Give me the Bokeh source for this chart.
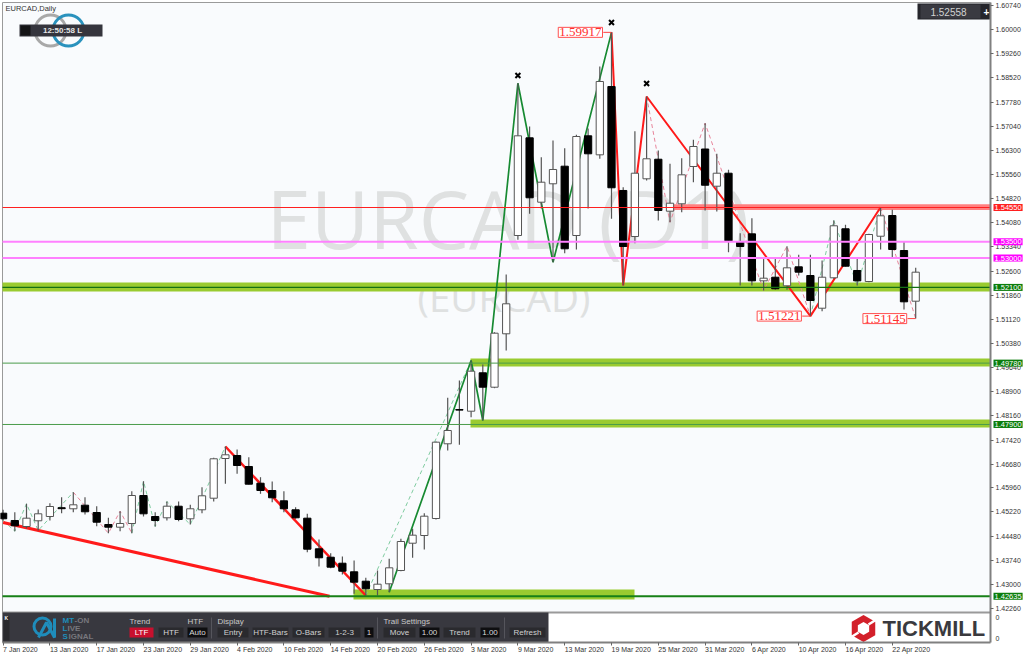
from bokeh.plotting import figure
from bokeh.models import Range1d, FixedTicker, Label
from bokeh.core.properties import value
from bokeh.embed import file_html
from bokeh.resources import INLINE

# ---------------- chart values ----------------
opens = [1.45181,1.44957,1.44773,1.44948,1.45080,1.45349,1.45316,1.45426,1.45202,1.44834,1.44752,1.44865,1.45723,1.45080,1.45040,1.45395,1.45009,1.45285,1.45640,1.46857,
         1.46949,1.46612,1.46100,1.45876,1.45561,1.45285,1.45028,1.44090,1.43832,1.43648,1.43385,1.43097,1.42842,1.43017,1.43425,1.44261,1.44497,1.45018,1.47308,1.48359,
         1.48307,1.49484,1.49042,1.50679,1.53691,1.56685,1.54712,1.55276,1.55815,1.53691,1.56746,1.56164,1.58257,1.55071,1.53660,1.55429,1.56029,1.54436,1.54663,1.55806,
         1.56342,1.55202,1.55600,1.53498,1.53742,1.52302,1.52413,1.52149,1.52732,1.52465,1.51463,1.52395,1.53897,1.52619,1.52281,1.53669,1.54304,1.53231,1.51678]
highs = [1.45285,1.45211,1.45469,1.45294,1.45487,1.45671,1.45824,1.45671,1.45395,1.45040,1.45242,1.45855,1.46161,1.45211,1.45539,1.45539,1.45438,1.45978,1.46879,1.47225,
         1.47133,1.46897,1.46284,1.46152,1.45855,1.45365,1.45162,1.44375,1.43955,1.43854,1.43731,1.43201,1.43425,1.43783,1.44396,1.44703,1.45181,1.47378,1.48717,1.49248,
         1.49861,1.49738,1.50728,1.52496,1.58358,1.57031,1.56088,1.56603,1.56367,1.56777,1.56971,1.58870,1.59917,1.55172,1.56887,1.57951,1.56296,1.55888,1.56060,1.56624,
         1.57132,1.56195,1.55704,1.53762,1.54222,1.52977,1.52977,1.53364,1.53098,1.53098,1.52925,1.54151,1.54019,1.53007,1.53742,1.54559,1.54479,1.53507,1.52701]
lows = [1.44957,1.44629,1.44712,1.44651,1.44957,1.45181,1.45211,1.45141,1.44782,1.44568,1.44629,1.44568,1.45080,1.44773,1.44957,1.44936,1.44834,1.45181,1.45539,1.46082,
        1.46388,1.46060,1.45775,1.45518,1.45211,1.45009,1.43986,1.43547,1.43495,1.43302,1.42711,1.42659,1.42659,1.42760,1.43403,1.43814,1.44068,1.44988,1.47102,1.47277,
        1.48123,1.48022,1.49012,1.50167,1.53560,1.54356,1.54519,1.52873,1.53149,1.53262,1.54519,1.56042,1.54203,1.52160,1.53455,1.55377,1.54151,1.54099,1.54406,1.55325,
        1.54458,1.54427,1.53175,1.52160,1.52160,1.52006,1.52027,1.52027,1.52465,1.51221,1.51371,1.52364,1.52741,1.52160,1.52260,1.53262,1.53007,1.51423,1.51145]
closes = [1.45009,1.44795,1.45028,1.45162,1.45386,1.45319,1.45438,1.45224,1.44905,1.44752,1.44865,1.45723,1.45162,1.44957,1.45395,1.44988,1.45316,1.45714,1.46848,1.46971,
          1.46643,1.46070,1.45876,1.45653,1.45316,1.45040,1.44077,1.43814,1.43526,1.43403,1.43066,1.42864,1.43005,1.43507,1.44313,1.44507,1.45089,1.47357,1.47715,1.48340,
          1.49533,1.49042,1.50697,1.51598,1.56746,1.54847,1.55325,1.55714,1.53284,1.56725,1.56195,1.58411,1.55154,1.53354,1.55600,1.56042,1.54458,1.54681,1.55551,1.56419,
          1.55232,1.55600,1.53529,1.53354,1.52302,1.52383,1.52058,1.52701,1.52567,1.51699,1.52413,1.53989,1.52750,1.52302,1.53721,1.54295,1.53262,1.51659,1.52567]

date_labels = ["7 Jan 2020","13 Jan 2020","17 Jan 2020","23 Jan 2020","29 Jan 2020","4 Feb 2020","10 Feb 2020",
               "14 Feb 2020","20 Feb 2020","26 Feb 2020","3 Mar 2020","9 Mar 2020","13 Mar 2020","19 Mar 2020",
               "25 Mar 2020","31 Mar 2020","6 Apr 2020","10 Apr 2020","16 Apr 2020","22 Apr 2020"]
price_ticks = [1.60740,1.60000,1.59260,1.58520,1.57780,1.57040,1.56300,1.55560,1.54820,1.54080,1.53340,1.52600,1.51860,
               1.51120,1.50380,1.49640,1.48900,1.48160,1.47420,1.46680,1.45960,1.45220,1.44480,1.43740,1.43000,1.42260]

level_prices = [1.54550,1.53500,1.53000,1.52100,1.49780,1.47900,1.42635]
level_tags = ["1.54550","1.53500","1.53000","1.52100","1.49780","1.47900","1.42635"]

band_tops = [1.54650,1.52251,1.49921,1.48052,1.42842]
band_bottoms = [1.54470,1.51975,1.49676,1.47807,1.42535]

fall_i = [0,27.9];                 fall_p = [1.44896,1.42635]
drop_i = [19,31];                  drop_p = [1.47225,1.42659]
up_i = [33,40,41,44,47,52];        up_p = [1.42760,1.49861,1.48022,1.58358,1.52873,1.59917]
down_i = [52,53,55,69,75];         down_p = [1.59917,1.52160,1.57951,1.51221,1.54559]
thin_up_i = [[0,1,2,3,6],[11,12,13,14,16,19],[31,40],[69,71,73,75]]
thin_up_p = [[1.4496,1.44629,1.45469,1.44651,1.45824],[1.44568,1.46161,1.44773,1.45539,1.44834,1.47225],
             [1.42659,1.49861],[1.51221,1.54151,1.52160,1.54559]]
thin_dn_i = [[6,9,10,11],[55,57,60,65,67,69],[75,78]]
thin_dn_p = [[1.45824,1.44568,1.45242,1.44568],[1.57951,1.54099,1.57132,1.52006,1.53364,1.51221],[1.54559,1.51145]]

cross_i = [44,52,55];              cross_p = [1.58594,1.60219,1.58349]
box_i = [52,69,78];                box_p = [1.59917,1.51221,1.51145]
box_text = ["1.59917","1.51221","1.51145"]
live_price = "1.52558"

# ---------------- reference pixel <-> data helpers ----------------
def idx(x):
    return (x - 2.6) / 11.7
def val(y):
    return 1.6074 - (y - 5) / 3263.0

W, H = 1024, 658

p = figure(width=W, height=H, output_backend="svg", toolbar_location=None,
           x_range=Range1d(idx(0), idx(W)), y_range=Range1d(val(H), val(0)),
           y_axis_location="right", min_border=0,
           background_fill_color="white", border_fill_color="white",
           outline_line_color=None)
p.grid.visible = False

ax = p.yaxis[0]
ax.fixed_location = idx(990)
ax.bounds = (val(642), val(2))
ax.ticker = FixedTicker(ticks=price_ticks)
ax.major_label_overrides = {t: f"{t:.5f}" for t in price_ticks}
ax.major_label_text_font = "Liberation Sans"
ax.major_label_text_font_size = "7px"
ax.major_label_text_color = "#333333"
ax.major_tick_out = 3
ax.major_tick_in = 0
ax.minor_tick_out = 0
ax.minor_tick_in = 0
ax.major_label_standoff = 2
ax.axis_line_color = "#808080"
ax.axis_line_width = 2
ax.major_tick_line_color = "#666666"

date_ticks = list(range(0, 80, 4))
bx = p.xaxis[0]
bx.fixed_location = val(642)
bx.bounds = (idx(2), idx(990))
bx.ticker = FixedTicker(ticks=date_ticks)
bx.major_label_overrides = {t: "" for t in date_ticks}
bx.major_tick_out = 3
bx.major_tick_in = 0
bx.minor_tick_out = 0
bx.minor_tick_in = 0
bx.major_label_standoff = 0
bx.major_label_text_font_size = "7px"
bx.axis_line_color = "#808080"
bx.axis_line_width = 2
bx.major_tick_line_color = "#666666"


def txt(x, y, s, size, color, font="Liberation Sans", style="normal", align="left", base="middle"):
    p.text([idx(x)], [val(y)], text=[s], text_font=value(font), text_font_size=f"{size}px",
           text_color=color, text_font_style=style, text_align=align, text_baseline=base)


def box(x0, x1, y0, y1, color, line=None, alpha=1.0):
    p.quad(left=[idx(x0)], right=[idx(x1)], top=[val(y0)], bottom=[val(y1)],
           fill_color=color, fill_alpha=alpha, line_color=line)


# chart background and its frame
box(2, 990, 2, 642, "#f9fbfd")
p.line([idx(2), idx(2), idx(990)], [val(642), val(2), val(2)], line_color="#9a9a9a", line_width=1)

# watermark
txt(266, 217, "EURCAD (D1)", 80, "#dfe1e1", font="Open Sans")
txt(417, 296, "(EURCAD)", 38.6, "#dfe1e1", font="Open Sans")

# supply / demand bands
band_colors = ["#ff7f7f", "#9acb30", "#9acb30", "#9acb30", "#9acb30"]
band_starts = [672, 2, 470, 470, 353]
band_ends = [990, 990, 990, 990, 634]
p.quad(left=[idx(v) for v in band_starts], right=[idx(v) for v in band_ends], top=band_tops, bottom=band_bottoms,
       fill_color=band_colors, line_color=None)

# zigzags under candles
p.multi_line(thin_up_i, thin_up_p, line_color="#7fcca0", line_width=1, line_dash="4 3")
p.multi_line(thin_dn_i, thin_dn_p, line_color="#e8849a", line_width=1, line_dash="4 3")
p.line(fall_i, fall_p, line_color="#ff1a1a", line_width=3)
p.line(drop_i, drop_p, line_color="#ff1a1a", line_width=2.5)
p.line(up_i, up_p, line_color="#178a32", line_width=1.7)
p.line(down_i, down_p, line_color="#ff1a1a", line_width=2)

# candles
n = len(opens)
xs = list(range(n))
tops = [max(a, b) for a, b in zip(opens, closes)]
bottoms = [min(a, b) for a, b in zip(opens, closes)]
fills = ["white" if c > o else "black" for o, c in zip(opens, closes)]
lines = ["#555555" if c > o else "black" for o, c in zip(opens, closes)]
p.segment(xs, highs, xs, lows, line_color="#555555", line_width=1.2)
p.vbar(x=xs, width=0.62, top=tops, bottom=bottoms, fill_color=fills, line_color=lines, line_width=1)

# levels over candles
lvl_colors = ["#ff2020", "#ff80ff", "#ff80ff", "#146f14", "#4b9c4b", "#4b9c4b", "#178017"]
lvl_widths = [1.2, 2, 2, 1.2, 1, 1, 2]
for pr, c, w in zip(level_prices, lvl_colors, lvl_widths):
    p.line([idx(2), idx(990)], [pr, pr], line_color=c, line_width=w)

# crosses
p.scatter(cross_i, cross_p, marker="x", size=7, line_color="black", line_width=2)

# boxed price labels
for i, pr, s, in zip(box_i, box_p, box_text):
    p.segment([i - 0.7], [pr], [i], [pr], line_color="#ff4040", line_width=1)
    p.add_layout(Label(x=i, y=pr, x_offset=-9, text=s, text_font="Liberation Serif", text_font_size="13px",
                       text_color="#ff3030", text_align="right", text_baseline="middle",
                       background_fill_color="white", border_line_color="#ff5050", border_line_width=1, padding=1))

# top-left
txt(5, 8, "EURCAD,Daily", 7.5, "#333333")
p.scatter([idx(50)], [val(30)], marker="circle", size=31, fill_color=None, line_color="#a8a8a8", line_width=3)
p.scatter([idx(68)], [val(30)], marker="circle", size=31, fill_color=None, line_color="#2a92bd", line_width=3)
box(19, 102, 24, 36, "#35353d")
box(20, 30, 25, 35, "#141416")
txt(62, 30, "12:50:58 L", 8, "#e6e6e6", style="bold", align="center")

# top-right price box
box(917, 990, 3, 19, "#25252b")
box(920, 980, 4, 18, "#3a3a41")
txt(948, 11, live_price, 10, "#d2d2d2", align="center")
txt(986, 11, "+", 10, "white", style="bold", align="center")

# bottom panel
box(2, 990, 612, 642, "#ffffff")
p.line([idx(2), idx(990)], [val(612), val(612)], line_color="#9a9a9a", line_width=2)
box(2, 548, 612, 642, "#38383f")
box(3, 9, 616, 640, "#2a2a2e")
txt(4, 617, "K", 5, "#ffffff", style="bold")
p.scatter([idx(42)], [val(626)], marker="circle", size=17, fill_color=None, line_color="#1f8dbb", line_width=3)
p.line([idx(38), idx(46), idx(54), idx(54)], [val(637), val(622), val(637), val(618)], line_color="#1f8dbb", line_width=3)
for yy, a, b in [(620, "MT", "-ON"), (628, "L", "IVE"), (636, "S", "IGNAL")]:
    off = {"MT": 12, "L": 5, "S": 6}[a]
    txt(62, yy, a, 8, "#1f8dbb", style="bold")
    txt(62 + off, yy, b, 8, "#77777d", style="bold")

for x, s in [(129, "Trend"), (187, "HTF"), (217, "Display"), (383, "Trail Settings")]:
    txt(x, 621, s, 8, "#c8c8c8")
buttons = [(129, 153, "LTF", "#c8102e", "#ffffff"), (158, 183, "HTF", "#2a2a2e", "#d8d8d8"),
           (187, 207, "Auto", "#0e0e10", "#d8d8d8"), (217, 248, "Entry", "#2a2a2e", "#d0d0d0"),
           (252, 288, "HTF-Bars", "#2a2a2e", "#d0d0d0"), (292, 324, "O-Bars", "#2a2a2e", "#d0d0d0"),
           (328, 360, "1-2-3", "#2a2a2e", "#d0d0d0"), (364, 373, "1", "#0e0e10", "#d8d8d8"),
           (383, 415, "Move", "#2a2a2e", "#d0d0d0"), (419, 439, "1.00", "#0e0e10", "#d8d8d8"),
           (443, 475, "Trend", "#2a2a2e", "#d0d0d0"), (480, 499, "1.00", "#0e0e10", "#d8d8d8"),
           (509, 545, "Refresh", "#2a2a2e", "#d0d0d0")]
for x0, x1, s, fc, tc in buttons:
    box(x0, x1, 627, 637, fc)
    txt((x0 + x1) / 2, 632, s, 8, tc, align="center")
for x in [211, 377, 504]:
    p.segment([idx(x)], [val(617)], [idx(x)], [val(638)], line_color="#55555c", line_width=1)

# Tickmill logo
cx, cy, r = 863, 628, 13.5
hx = [cx, cx + r * 0.87, cx + r * 0.87, cx, cx - r * 0.87, cx - r * 0.87]
hy = [cy - r, cy - r / 2, cy + r / 2, cy + r, cy + r / 2, cy - r / 2]
p.patch([idx(v) for v in hx], [val(v) for v in hy], fill_color="#d3202a", line_color=None)
r2 = 6.5
hx2 = [cx, cx + r2 * 0.87, cx + r2 * 0.87, cx, cx - r2 * 0.87, cx - r2 * 0.87]
hy2 = [cy - r2, cy - r2 / 2, cy + r2 / 2, cy + r2, cy + r2 / 2, cy - r2 / 2]
p.patch([idx(v) for v in hx2], [val(v) for v in hy2], fill_color="white", line_color=None)
p.segment([idx(cx + 5)], [val(cy - 4)], [idx(cx + 13)], [val(cy - 9)], line_color="white", line_width=2.5)
p.segment([idx(cx - 5)], [val(cy + 4)], [idx(cx - 13)], [val(cy + 9)], line_color="white", line_width=2.5)
txt(882, 628, "TICKMILL", 22, "#3a3a3e", style="bold")

# right tags and lower-pane axis
tag_colors = ["#ff1f1f", "#ff00ff", "#ff00ff", "#0b7d0b", "#0b7d0b", "#0b7d0b", "#0b7d0b"]
for pr, s, c in zip(level_prices, level_tags, tag_colors):
    p.add_layout(Label(x=idx(993), y=pr, text=s, text_font="Liberation Sans",
                       text_font_size="7.5px", text_color="white", text_baseline="middle",
                       background_fill_color=c, padding=1))
for yy in [617, 638]:
    txt(995, yy, "0", 7, "#333333")

# date labels (start at their tick)
for t, s in zip(date_ticks, date_labels):
    p.text([t], [val(649)], text=[s], text_font=value("Liberation Sans"), text_font_size="7px",
           text_color="#333333", text_baseline="middle", text_align="left")

open("out.html", "w").write(file_html(p, INLINE))
